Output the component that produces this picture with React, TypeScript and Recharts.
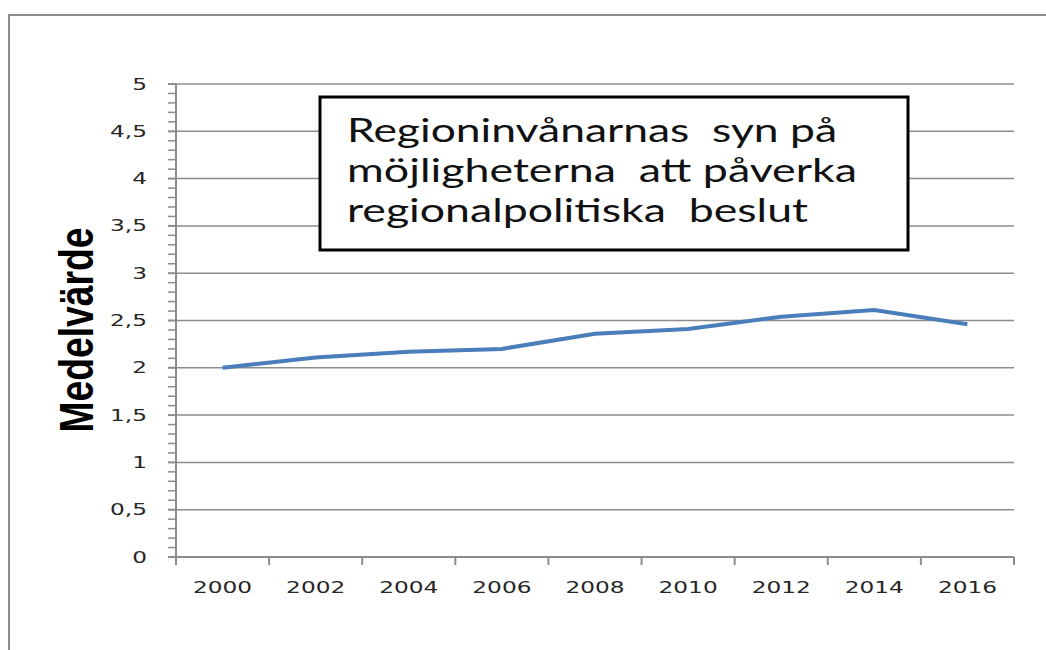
import { LineChart, Line, XAxis, YAxis, ReferenceLine } from 'recharts';

const years = [2000, 2002, 2004, 2006, 2008, 2010, 2012, 2014, 2016];
const medelvarde = [2.0, 2.11, 2.17, 2.2, 2.36, 2.41, 2.54, 2.61, 2.46];
const yLabels = [0, 0.5, 1, 1.5, 2, 2.5, 3, 3.5, 4, 4.5, 5];
const titleLines = ['Regioninvånarnas  syn på', 'möjligheterna  att påverka', 'regionalpolitiska  beslut'];
const yTitle = 'Medelvärde';

const data = years.map((year, i) => ({ year, value: medelvarde[i] }));

// category-style axis: tick marks between the years, labels on the years
const xTicks = [...years.map((y) => y - 1), years[years.length - 1] + 1, ...years].sort((a, b) => a - b);
// minor ticks every 0.1
const yTicks = Array.from({ length: 51 }, (_, i) => i / 10);

const GRID = '#8c8c8c';
const TEXT = '#262626';
const STRETCH = 1.55;

const XTick = ({ x, y, payload }: any) => {
  const v = payload.value;
  if (years.includes(v)) {
    return (
      <text
        transform={`translate(${x},${y + 36}) scale(${STRETCH},1)`}
        textAnchor="middle"
        fontFamily="DejaVu Sans"
        fontSize={15}
        fill={TEXT}
      >
        {v}
      </text>
    );
  }
  return <line x1={x} x2={x} y1={y} y2={y + 8} stroke={GRID} strokeWidth={2} />;
};

const YTick = ({ x, y, payload }: any) => {
  const v = payload.value;
  const major = yLabels.some((m) => Math.abs(m - v) < 1e-6);
  return (
    <g>
      <line x1={x - 8} x2={x} y1={y} y2={y} stroke={GRID} strokeWidth={major ? 2 : 1.5} />
      {major && (
        <text
          transform={`translate(147,${y + 5.5}) scale(${STRETCH},1)`}
          textAnchor="end"
          fontFamily="DejaVu Sans"
          fontSize={15}
          fill={TEXT}
        >
          {String(v).replace('.', ',')}
        </text>
      )}
    </g>
  );
};

export default function App() {
  return (
    <div style={{ position: 'absolute', left: 0, top: 0, width: 1046, height: 650, overflow: 'hidden', background: '#fff' }}>
      <div style={{ position: 'absolute', left: 8, top: 14, width: 1200, height: 800, border: `2px solid ${GRID}` }} />
      <div style={{ position: 'absolute', left: 0, top: 0 }}>
        <LineChart width={1046} height={650} data={data} margin={{ top: 84, right: 32, bottom: 63, left: 116 }}>
          {yLabels.slice(1).map((v) => (
            <ReferenceLine key={v} y={v} stroke={GRID} strokeWidth={1.5} />
          ))}
          <XAxis
            dataKey="year"
            type="number"
            domain={[1999, 2017]}
            ticks={xTicks}
            interval={0}
            tickSize={0}
            tickMargin={0}
            height={30}
            axisLine={{ stroke: GRID, strokeWidth: 2 }}
            tickLine={false}
            tick={<XTick />}
          />
          <YAxis
            type="number"
            domain={[0, 5]}
            ticks={yTicks}
            interval={0}
            tickSize={0}
            tickMargin={0}
            width={60}
            axisLine={{ stroke: GRID, strokeWidth: 2 }}
            tickLine={false}
            tick={<YTick />}
          />
          <Line
            type="linear"
            dataKey="value"
            stroke="#4a7ebb"
            strokeWidth={4}
            dot={false}
            isAnimationActive={false}
          />
        </LineChart>
      </div>
      <svg width={1046} height={650} style={{ position: 'absolute', left: 0, top: 0, pointerEvents: 'none' }}>
        <text
          transform="translate(93,330) rotate(-90)"
          textAnchor="middle"
          fontFamily="Liberation Sans"
          fontWeight="bold"
          fontSize={49}
          textLength={205}
          lengthAdjust="spacingAndGlyphs"
          fill="#000"
        >
          {yTitle}
        </text>
        <rect x={320} y={97} width={588} height={153} fill="#fff" stroke="#000" strokeWidth={3} />
        {titleLines.map((t, i) => (
          <text
            key={t}
            x={347}
            y={142 + i * 40}
            fontFamily="Lato"
            fontSize={32}
            fill="#111"
            textLength={[490, 510, 461][i]}
            lengthAdjust="spacingAndGlyphs"
            style={{ whiteSpace: 'pre' }}
          >
            {t}
          </text>
        ))}
      </svg>
    </div>
  );
}
